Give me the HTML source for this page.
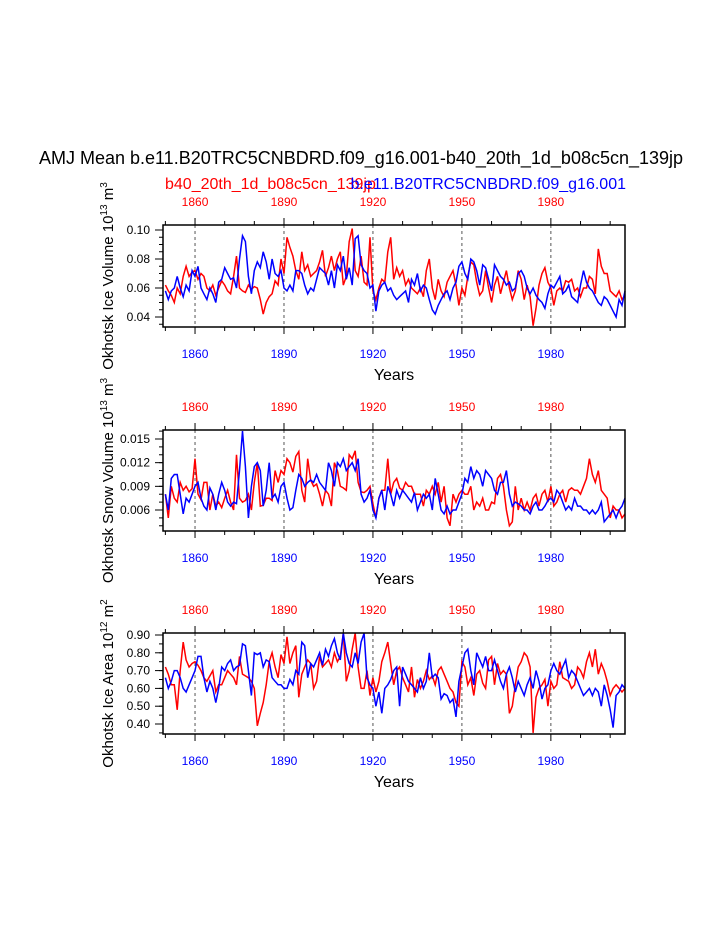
<!DOCTYPE html>
<html><head><meta charset="utf-8"><style>
body{margin:0;background:#fff}
svg{display:block;font-family:"Liberation Sans",sans-serif}
</style></head><body>
<svg id="chart" width="723" height="935">
<text x="361" y="164" font-size="18" text-anchor="middle">AMJ Mean b.e11.B20TRC5CNBDRD.f09_g16.001-b40_20th_1d_b08c5cn_139jp</text>
<text x="165" y="189" font-size="16" fill="#f00">b40_20th_1d_b08c5cn_139jp</text>
<text x="626" y="189" font-size="16" fill="#00f" text-anchor="end">b.e11.B20TRC5CNBDRD.f09_g16.001</text>
</svg>
<script>
const years=[];for(let y=1850;y<=2005;y++)years.push(y);
const xTicksLabels=[1860,1890,1920,1950,1980];
const iceVolRed=[.062,.058,.055,.05,.06,.056,.068,.075,.068,.071,.072,.066,.070,.068,.060,.058,.062,.055,.060,.065,.062,.058,.056,.068,.082,.060,.058,.057,.062,.059,.061,.060,.052,.042,.050,.054,.056,.065,.062,.080,.070,.095,.088,.082,.072,.066,.085,.072,.076,.068,.070,.072,.078,.086,.068,.074,.082,.072,.080,.085,.062,.068,.092,.101,.072,.068,.082,.064,.062,.095,.058,.052,.060,.066,.064,.085,.095,.066,.074,.068,.072,.062,.066,.060,.058,.056,.060,.054,.072,.080,.060,.052,.066,.058,.054,.064,.068,.072,.062,.048,.060,.055,.068,.078,.076,.064,.055,.058,.072,.060,.050,.062,.068,.056,.064,.072,.060,.052,.058,.072,.066,.052,.062,.054,.034,.046,.062,.070,.074,.064,.060,.048,.058,.060,.058,.065,.064,.066,.058,.060,.054,.060,.060,.068,.066,.056,.087,.075,.070,.070,.058,.056,.054,.058,.052,.055];
const iceVolBlue=[.058,.052,.058,.060,.068,.060,.054,.062,.058,.072,.068,.075,.060,.056,.052,.060,.056,.050,.064,.066,.074,.070,.066,.067,.060,.080,.096,.092,.068,.056,.072,.078,.074,.085,.078,.066,.080,.070,.068,.072,.060,.058,.062,.058,.072,.072,.070,.062,.056,.060,.058,.066,.074,.072,.070,.062,.072,.060,.076,.072,.082,.066,.074,.062,.094,.096,.076,.072,.070,.060,.062,.044,.058,.062,.064,.058,.060,.055,.052,.054,.056,.058,.050,.066,.062,.070,.058,.062,.060,.052,.045,.042,.048,.052,.056,.058,.052,.060,.064,.075,.078,.070,.066,.080,.078,.072,.062,.076,.074,.066,.058,.076,.072,.068,.066,.062,.064,.058,.060,.070,.072,.068,.060,.056,.060,.055,.052,.050,.046,.056,.062,.060,.064,.068,.056,.058,.062,.054,.052,.050,.062,.072,.064,.060,.058,.054,.050,.048,.054,.052,.048,.044,.040,.052,.048,.058];
const snowRed=[.0080,.0050,.0090,.0075,.0070,.0095,.0085,.0090,.0083,.0087,.0125,.0080,.0073,.0095,.0095,.0060,.0080,.0065,.0070,.0063,.0075,.0085,.0070,.0060,.0130,.0075,.0070,.0072,.0080,.0060,.0095,.0120,.0065,.0066,.0075,.0075,.0072,.0110,.0095,.0110,.0105,.0125,.0120,.0108,.0128,.0134,.0085,.0070,.0125,.0098,.0090,.0093,.0080,.0065,.0085,.0080,.0065,.0120,.0110,.0090,.0088,.0085,.0130,.0125,.0135,.0095,.0083,.0082,.0085,.0090,.0068,.0050,.0075,.0085,.0085,.0125,.0080,.0095,.0100,.0088,.0085,.0095,.0090,.0090,.0080,.0080,.0080,.0065,.0085,.0080,.0090,.0080,.0095,.0070,.0090,.0050,.0040,.0080,.0070,.0080,.0085,.0080,.0080,.0090,.0060,.0070,.0065,.0075,.0060,.0060,.0070,.0068,.0100,.0105,.0090,.0060,.0040,.0045,.0090,.0060,.0075,.0060,.0070,.0060,.0075,.0080,.0065,.0080,.0085,.0070,.0090,.0065,.0070,.0080,.0085,.0070,.0085,.0088,.0085,.0085,.0080,.0090,.0100,.0125,.0105,.0095,.0110,.0085,.0080,.0075,.0050,.0065,.0060,.0060,.0050,.0055];
const snowBlue=[.0080,.0060,.0100,.0105,.0105,.0080,.0055,.0075,.0070,.0080,.0090,.0095,.0075,.0065,.0060,.0088,.0080,.0060,.0080,.0095,.0085,.0070,.0065,.0070,.0068,.0110,.0160,.0115,.0050,.0090,.0115,.0120,.0110,.0065,.0085,.0120,.0075,.0080,.0070,.0090,.0095,.0075,.0060,.0063,.0085,.0105,.0100,.0090,.0095,.0098,.0095,.0105,.0095,.0090,.0085,.0120,.0110,.0090,.0120,.0115,.0125,.0110,.0115,.0120,.0110,.0125,.0080,.0070,.0075,.0085,.0060,.0050,.0075,.0085,.0060,.0090,.0080,.0065,.0085,.0075,.0085,.0080,.0075,.0070,.0082,.0060,.0070,.0080,.0075,.0080,.0060,.0100,.0080,.0060,.0055,.0065,.0055,.0060,.0060,.0070,.0080,.0100,.0095,.0115,.0100,.0110,.0105,.0090,.0110,.0105,.0100,.0085,.0080,.0095,.0095,.0110,.0080,.0065,.0070,.0068,.0065,.0060,.0060,.0055,.0065,.0070,.0060,.0060,.0065,.0072,.0075,.0070,.0085,.0080,.0070,.0060,.0065,.0060,.0075,.0065,.0065,.0060,.0060,.0055,.0060,.0055,.0060,.0070,.0045,.0050,.0055,.0060,.0050,.0060,.0065,.0075];
const areaRed=[.72,.68,.62,.62,.48,.70,.86,.76,.72,.74,.75,.73,.70,.66,.64,.67,.70,.58,.62,.62,.66,.70,.68,.66,.62,.78,.68,.67,.66,.64,.60,.39,.46,.52,.62,.75,.80,.72,.66,.79,.74,.89,.74,.80,.84,.55,.68,.72,.76,.74,.60,.64,.78,.72,.74,.76,.72,.80,.75,.78,.91,.64,.70,.82,.91,.72,.60,.60,.70,.56,.66,.58,.64,.75,.80,.86,.74,.62,.70,.72,.66,.62,.58,.72,.55,.65,.60,.64,.70,.65,.67,.62,.70,.72,.68,.64,.60,.58,.52,.50,.75,.72,.62,.66,.56,.68,.70,.63,.60,.76,.78,.62,.74,.68,.70,.68,.46,.50,.62,.72,.75,.80,.78,.72,.35,.55,.60,.62,.65,.50,.64,.60,.62,.75,.66,.65,.64,.60,.62,.72,.70,.66,.75,.80,.72,.82,.68,.74,.70,.64,.56,.60,.62,.60,.58,.60];
const areaBlue=[.66,.60,.64,.70,.70,.66,.60,.58,.62,.66,.70,.78,.78,.66,.58,.64,.60,.52,.60,.72,.70,.74,.76,.70,.72,.73,.85,.84,.70,.56,.80,.79,.80,.72,.76,.75,.66,.64,.62,.62,.60,.60,.65,.62,.70,.68,.86,.84,.66,.74,.72,.76,.80,.73,.82,.78,.84,.88,.80,.76,.91,.80,.74,.72,.80,.74,.86,.91,.66,.62,.60,.50,.58,.46,.60,.62,.65,.70,.72,.50,.72,.68,.64,.62,.60,.58,.66,.60,.64,.80,.66,.68,.66,.54,.57,.56,.52,.54,.44,.64,.72,.80,.82,.70,.62,.80,.76,.72,.78,.70,.70,.76,.70,.64,.60,.68,.72,.66,.58,.64,.60,.56,.62,.66,.60,.70,.64,.54,.60,.62,.70,.74,.70,.68,.72,.76,.66,.70,.68,.64,.60,.56,.58,.60,.56,.60,.58,.50,.62,.56,.48,.38,.56,.58,.62,.60];
const p1Ticks=[0.04,0.06,0.08,0.10];
const p2Ticks=[0.006,0.009,0.012,0.015];
const p3Ticks=[0.40,0.50,0.60,0.70,0.80,0.90];

const NS='http://www.w3.org/2000/svg';
const svg=document.getElementById('chart');
const X0=163,X1=625,YR0=1849.2,YR1=2005;
const xs=y=>X0+(y-YR0)/(YR1-YR0)*(X1-X0);
function el(t,a,p){const e=document.createElementNS(NS,t);for(const k in a)e.setAttribute(k,a[k]);(p||svg).appendChild(e);return e;}

const panels=[
 {top:225,bot:327,v0:0.10,y0:230,v1:0.04,y1:317,ticks:p1Ticks,minor:0.005,dec:2,red:iceVolRed,blue:iceVolBlue,label:'Okhotsk Ice Volume 10',sup:'13',unit:' m',usup:'3',name:'ice-volume'},
 {top:430,bot:531,v0:0.015,y0:439,v1:0.006,y1:510,ticks:p2Ticks,minor:0.001,dec:3,red:snowRed,blue:snowBlue,label:'Okhotsk Snow Volume 10',sup:'13',unit:' m',usup:'3',name:'snow-volume'},
 {top:633,bot:734,v0:0.90,y0:635,v1:0.40,y1:724,ticks:p3Ticks,minor:0.05,dec:2,red:areaRed,blue:areaBlue,label:'Okhotsk Ice Area 10',sup:'12',unit:' m',usup:'2',name:'ice-area'}
];
panels.forEach((P,pi)=>{
 const g=el('g',{});
 
 
 const ys=v=>P.y0+(v-P.v0)/(P.v1-P.v0)*(P.y1-P.y0);
 // gridlines
 xTicksLabels.forEach(yr=>{
  const l=el('line',{x1:xs(yr),x2:xs(yr),y1:P.top,y2:P.bot,stroke:'#555','stroke-dasharray':'3,3','stroke-width':1},g);
  
  
 });
 // series
 [['red','#f00'],['blue','#00f']].forEach(([k,c])=>{
  const d=P[k].map((v,i)=>(i?'L':'M')+xs(years[i]).toFixed(1)+','+ys(v).toFixed(1)).join('');
  const p=el('path',{d:d,fill:'none',stroke:c,'stroke-width':1.5},g);
  
  
 });
 const fr=el('rect',{x:X0,y:P.top,width:X1-X0,height:P.bot-P.top,fill:'none',stroke:'#000','stroke-width':1.5},g);
 
 
 // x ticks
 for(let yr=1850;yr<=2000;yr+=10){
  const x=xs(yr),maj=xTicksLabels.includes(yr);
  el('line',{x1:x,x2:x,y1:P.top,y2:P.top-(maj?7:4),stroke:'#000'},g);
  el('line',{x1:x,x2:x,y1:P.bot,y2:P.bot+(maj?7:4),stroke:'#000'},g);
 }
 xTicksLabels.forEach(yr=>{
  const t=el('text',{x:xs(yr),y:P.top-19,'font-size':12,fill:'#f00','text-anchor':'middle'},g);t.textContent=yr;
  
  
  const b=el('text',{x:xs(yr),y:P.bot+31,'font-size':12,fill:'#00f','text-anchor':'middle'},g);b.textContent=yr;
  
  
 });
 // y ticks
 const lo=Math.min(P.v0,P.v1),step=P.minor;
 const vmin=P.v1+(P.bot-P.y1)/(P.y0-P.y1)*(P.v0-P.v1)*-1;
 for(let v=Math.ceil(( (P.v1-(P.bot-P.y1)*(P.v0-P.v1)/(P.y1-P.y0)) )/step)*step; ys(v)>=P.top-0.5; v+=step){
  const y=ys(v); if(y>P.bot+0.5)continue;
  el('line',{x1:X0,x2:X0-4,y1:y,y2:y,stroke:'#000'},g);
 }
 P.ticks.forEach(v=>{
  const y=ys(v);
  el('line',{x1:X0,x2:X0-8,y1:y,y2:y,stroke:'#000'},g);
  const t=el('text',{x:X0-13,y:y+4,'font-size':12,'text-anchor':'end'},g);t.textContent=v.toFixed(P.dec);
  
  
 });
 const xt=el('text',{x:394,y:P.bot+53,'font-size':16,'text-anchor':'middle'},g);xt.textContent='Years';
 
 
 const cy=(P.top+P.bot)/2;
 const yt=el('text',{x:0,y:0,'font-size':15,'text-anchor':'middle',transform:'translate(113,'+cy+') rotate(-90)'},g);
 
 
 yt.appendChild(document.createTextNode(P.label));
 const s1=el('tspan',{'font-size':10,dy:-6},yt);s1.textContent=P.sup;
 const s2=el('tspan',{dy:6},yt);s2.textContent=P.unit;
 const s3=el('tspan',{'font-size':10,dy:-6},yt);s3.textContent=P.usup;
});
</script>
</body></html>
